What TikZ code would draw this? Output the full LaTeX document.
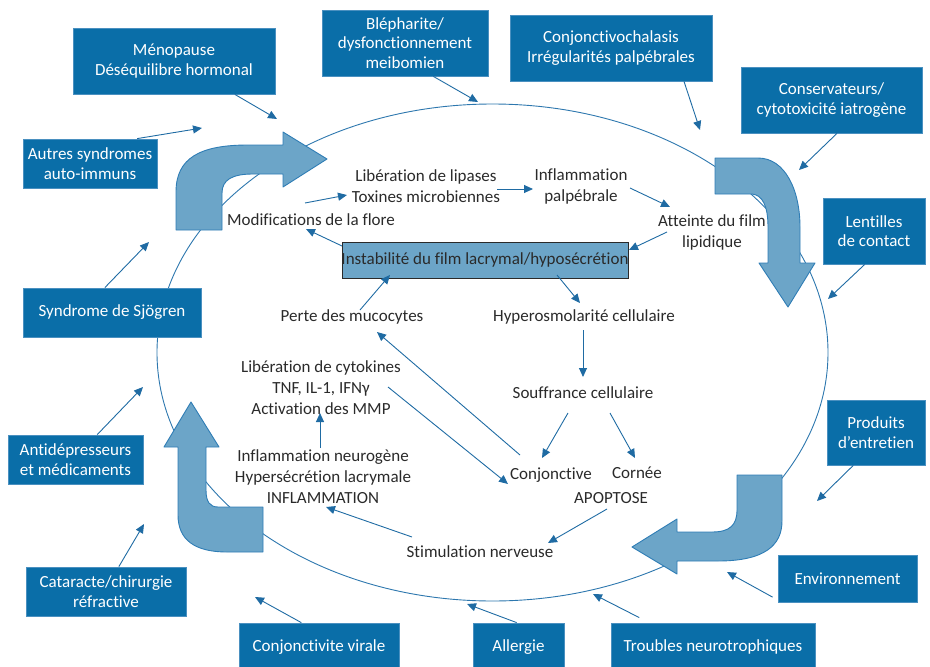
\documentclass[tikz,border=0pt]{standalone}
\usepackage{fontspec}
\setmainfont{Carlito}[Ligatures=NoCommon]
\usetikzlibrary{arrows.meta,calc}
\definecolor{boxblue}{HTML}{0A6EA8}
\definecolor{boxedge}{HTML}{4A90C0}
\definecolor{arrblue}{HTML}{1F6BA3}
\definecolor{bigfill}{HTML}{6CA5C8}
\definecolor{bigedge}{HTML}{2F7DB5}
\definecolor{textgray}{HTML}{2A2A2A}
\definecolor{ellcol}{HTML}{2D77AE}
\begin{document}
\begin{tikzpicture}[x=1pt,y=-1pt,
  obox/.style={draw=boxedge, fill=boxblue, text=white, align=center,
    font=\fontsize{17}{19.5}\selectfont, inner sep=0pt, line width=0.8pt},
  itxt/.style={text=textgray, align=center, font=\fontsize{17}{21}\selectfont, inner sep=1pt},
  ibox/.style={draw=textgray, fill=bigfill, line width=0.9pt, inner sep=0pt,
    minimum width=286pt, minimum height=36pt},
  sarr/.style={draw=arrblue, line width=0.9pt, -{Triangle[length=9pt,width=8pt]}},
  barrow/.style={fill=bigfill, draw=bigedge, line width=0.9pt, line join=round}]
\useasboundingbox (0,0) rectangle (930,667);
\clip (0,0) rectangle (930,667);

% main ellipse
\draw[ellcol, line width=0.9pt] (492.5,352.5) ellipse [x radius=335.5, y radius=248.5];

% big block arrows
\path[barrow] (176,230) -- (176,192) .. controls (176,158) and (200,145) .. (248,145)
  -- (283,145) -- (283,132) -- (327,159) -- (283,187) -- (283,174) -- (253,174)
  .. controls (232,174) and (222,180) .. (222,193) -- (222,230) -- cycle;
\path[barrow] (715,158) -- (758,158) .. controls (785,158) and (800,190) .. (800,227)
  -- (800,263) -- (815,263) -- (788,307) -- (759,263) -- (768,263) -- (768,227)
  .. controls (768,205) and (762,195) .. (752,194) -- (715,194) -- cycle;
\path[barrow] (737,475) -- (782,475) -- (782,521) .. controls (782,545) and (765,561) .. (718,561)
  -- (677,561) -- (677,574) -- (632,547) -- (677,519) -- (677,532) -- (712,532)
  .. controls (730,532) and (737,525) .. (737,510) -- cycle;
\path[barrow] (191,402) -- (219,447) -- (206,447) -- (206,490)
  .. controls (206,502) and (210,507) .. (218,507) -- (263,507) -- (263,552) -- (227,552)
  .. controls (195,552) and (178,540) .. (178,515) -- (178,447) -- (164,447) -- cycle;

% outer boxes
\node[obox, minimum width=202pt, minimum height=66pt] (meno) at (174,61) {Ménopause\\Déséquilibre hormonal};
\node[obox, minimum width=166pt, minimum height=66pt] (bleph) at (405,43) {Blépharite/\\dysfonctionnement\\meibomien};
\node[obox, minimum width=202pt, minimum height=66pt] (chal) at (611,48) {Conjonctivochalasis\\Irrégularités palpébrales};
\node[obox, minimum width=181pt, minimum height=66pt] (cons) at (831.5,100) {Conservateurs/\\cytotoxicité iatrogène};
\node[obox, minimum width=102pt, minimum height=66pt] (lent) at (874,231) {Lentilles\\de contact};
\node[obox, minimum width=98pt, minimum height=65pt] (prod) at (876,432.5) {Produits\\d’entretien};
\node[obox, minimum width=139pt, minimum height=47pt] (env) at (847.5,578.5) {Environnement};
\node[obox, minimum width=204pt, minimum height=48pt] (trou) at (713,647) {Troubles neurotrophiques};
\node[obox, minimum width=91pt, minimum height=48pt] (allg) at (518.5,647) {Allergie};
\node[obox, minimum width=160pt, minimum height=48pt] (vir) at (319,647) {Conjonctivite virale};
\node[obox, minimum width=160pt, minimum height=49pt] (cata) at (106,591.5) {Cataracte/chirurgie\\réfractive};
\node[obox, minimum width=135pt, minimum height=49pt] (antid) at (75.5,459.5) {Antidépresseurs\\et médicaments};
\node[obox, minimum width=178pt, minimum height=49pt] (sjog) at (112,312.5) {Syndrome de Sjögren};
\node[obox, minimum width=134pt, minimum height=49pt] (autr) at (90,163.5) {Autres syndromes\\auto-immuns};

% free arrow ends
\coordinate (tmeno) at (277,119);
\coordinate (tbleph) at (478,102);
\coordinate (tchal) at (700,130);
\coordinate (tcons) at (799,170);
\coordinate (tlent) at (828,299);
\coordinate (tprod) at (817,501);
\coordinate (tenv) at (727,572);
\coordinate (ttrou) at (593,594);
\coordinate (tallg) at (467,604);
\coordinate (tvir) at (255,597);
\coordinate (tcata) at (144,524);
\coordinate (tantid) at (143,387);
\coordinate (tsjog) at (149,242);
\coordinate (tautr) at (202,128);

\draw[sarr] ($(meno.south west)!0.80!(meno.south east)$) -- (tmeno);
\draw[sarr] ($(bleph.south west)!0.67!(bleph.south east)$) -- (tbleph);
\draw[sarr] ($(chal.south west)!0.86!(chal.south east)$) -- (tchal);
\draw[sarr] ($(cons.south west)!0.53!(cons.south east)$) -- (tcons);
\draw[sarr] ($(lent.south west)!0.41!(lent.south east)$) -- (tlent);
\draw[sarr] ($(prod.south west)!0.27!(prod.south east)$) -- (tprod);
\draw[sarr] ($(env.north west)!0.89!(env.south west)+(-5,0)$) -- (tenv);
\draw[sarr] ($(trou.north west)!0.14!(trou.north east)+(0,-5)$) -- (ttrou);
\draw[sarr] ($(allg.north west)!0.48!(allg.north east)$) -- (tallg);
\draw[sarr] ($(vir.north west)!0.39!(vir.north east)$) -- (tvir);
\draw[sarr] ($(cata.north west)!0.58!(cata.north east)$) -- (tcata);
\draw[sarr] ($(antid.north west)!0.66!(antid.north east)$) -- (tantid);
\draw[sarr] ($(sjog.north west)!0.46!(sjog.north east)$) -- (tsjog);
\draw[sarr] ($(autr.north west)!0.85!(autr.north east)$) -- (tautr);

% inner nodes
\node[ibox] (inst) at (485,260) {};
\node[itxt] (instt) at (485,260) {Instabilité du film lacrymal/hyposécrétion};
\node[itxt] (lip) at (426,186) {Libération de lipases\\Toxines microbiennes};
\node[itxt] (palp) at (581,186) {Inflammation\\palpébrale};
\node[itxt] (flore) at (311,220) {Modifications de la flore};
\node[itxt] (att) at (712,232) {Atteinte du film\\lipidique};
\node[itxt] (perte) at (352,317) {Perte des mucocytes};
\node[itxt] (hyper) at (584,317) {Hyperosmolarité cellulaire};
\node[itxt] (souff) at (583,393) {Souffrance cellulaire};
\node[itxt] (conj) at (551,475) {Conjonctive};
\node[itxt] (corn) at (637,473) {Cornée};
\node[itxt] (apop) at (611,498) {APOPTOSE};
\node[itxt] (stim) at (480,552) {Stimulation nerveuse};
\node[itxt] (cyto) at (321,388) {Libération de cytokines\\TNF, IL-1, IFNγ\\Activation des MMP};
\node[itxt] (neuro) at (323,477) {Inflammation neurogène\\Hypersécrétion lacrymale\\INFLAMMATION};

% inner arrows
\draw[sarr] ($(flore)+(-6,-17)$) -- ($(lip)+(-79,9)$);
\draw[sarr] ($(lip)+(71,3)$) -- ($(palp)+(-48,3)$);
\draw[sarr] ($(palp)+(49,2)$) -- ($(att)+(-42,-25)$);
\draw[sarr] ($(att)+(-45,0)$) -- ($(inst)+(144,-10)$);
\draw[sarr] ($(inst)+(-143,-14)$) -- ($(flore)+(-5,9)$);
\draw[sarr] ($(inst)+(72,15)$) -- ($(hyper)+(-4,-14)$);
\draw[sarr] ($(perte)+(8,-7)$) -- ($(inst)+(-95,15)$);
\draw[sarr] ($(hyper)+(-1,13)$) -- ($(souff)+(0,-16)$);
\draw[sarr] ($(souff)+(-15,20)$) -- ($(conj)+(-9,-17)$);
\draw[sarr] ($(souff)+(27,20)$) -- ($(corn)+(-2,-15)$);
\draw[sarr] ($(conj)+(-31,-20)$) -- ($(perte)+(25,15)$);
\draw[sarr] ($(cyto)+(67,-1)$) -- ($(conj)+(-43,9)$);
\draw[sarr] ($(apop)+(-4,11)$) -- ($(stim)+(68,-9)$);
\draw[sarr] ($(stim)+(-68,-15)$) -- ($(neuro)+(3,30)$);
\draw[sarr] ($(neuro)+(-3,-29)$) -- ($(cyto)+(-1,25)$);
\end{tikzpicture}
\end{document}
